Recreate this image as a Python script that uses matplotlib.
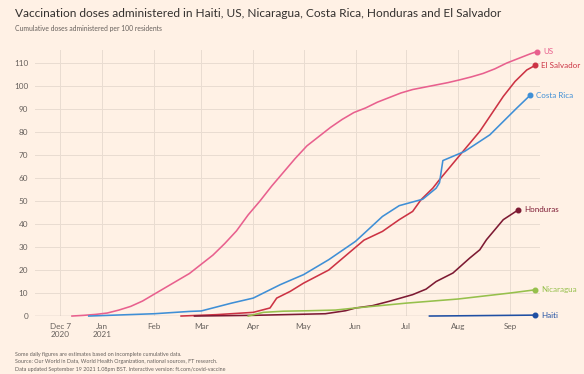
import matplotlib.pyplot as plt
import numpy as np
import pandas as pd

# weekly-ish readings (doses per 100 residents)
us_dates = ["2020-12-14", "2020-12-21", "2020-12-28", "2021-01-04", "2021-01-11", "2021-01-18",
            "2021-01-25", "2021-02-01", "2021-02-08", "2021-02-15", "2021-02-22", "2021-03-01",
            "2021-03-08", "2021-03-15", "2021-03-22", "2021-03-29", "2021-04-05", "2021-04-12",
            "2021-04-19", "2021-04-26", "2021-05-03", "2021-05-10", "2021-05-17", "2021-05-24",
            "2021-05-31", "2021-06-07", "2021-06-14", "2021-06-21", "2021-06-28", "2021-07-05",
            "2021-07-12", "2021-07-19", "2021-07-26", "2021-08-02", "2021-08-09", "2021-08-16",
            "2021-08-23", "2021-08-30", "2021-09-06", "2021-09-13", "2021-09-17"]
us_vals = [0, 0.3, 0.7, 1.3, 2.6, 4.2, 6.5, 9.5, 12.5, 15.5, 18.5, 22.5, 26.5, 31.5, 37, 44,
           50, 56.5, 62.5, 68.5, 74, 78, 82, 85.5, 88.5, 90.5, 93, 95, 97, 98.5, 99.5, 100.5,
           101.5, 102.7, 104, 105.5, 107.5, 110, 112, 114, 115]

cr_dates = ["2020-12-24", "2021-01-01", "2021-02-01", "2021-02-22", "2021-03-01", "2021-03-19",
            "2021-04-01", "2021-04-17", "2021-04-23", "2021-05-01", "2021-05-16", "2021-06-01",
            "2021-06-17", "2021-06-27", "2021-07-11", "2021-07-19", "2021-07-21", "2021-07-23",
            "2021-08-05", "2021-08-20", "2021-09-05", "2021-09-13"]
cr_vals = [0, 0.2, 1, 2, 2.2, 5.6, 7.8, 13.6, 15.5, 18, 24.5, 32.5, 43.3, 48, 50.8, 55.6, 58,
           67.6, 71.6, 78.8, 90.4, 96]

sv_dates = ["2021-02-17", "2021-03-10", "2021-04-01", "2021-04-11", "2021-04-15", "2021-04-23",
            "2021-05-01", "2021-05-16", "2021-06-06", "2021-06-17", "2021-06-27", "2021-07-05",
            "2021-07-10", "2021-07-17", "2021-07-21", "2021-08-04", "2021-08-14", "2021-08-20",
            "2021-08-28", "2021-09-04", "2021-09-11", "2021-09-16"]
sv_vals = [0, 0.6, 1.6, 3.5, 7.8, 10.7, 14.3, 20, 33, 36.8, 41.9, 45.5, 50.6, 55.6, 59.3, 71.6,
           80.3, 86.8, 95.5, 102, 107, 109]

hn_dates = ["2021-02-25", "2021-04-01", "2021-05-14", "2021-05-26", "2021-06-01", "2021-06-11",
            "2021-06-21", "2021-07-05", "2021-07-13", "2021-07-19", "2021-07-29", "2021-08-08",
            "2021-08-14", "2021-08-18", "2021-08-28", "2021-09-06"]
hn_vals = [0, 0.3, 1.0, 2.3, 3.5, 4.5, 6.4, 9.3, 11.7, 15, 18.7, 25.2, 28.8, 33.2, 41.9, 46.2]

ni_dates = ["2021-03-29", "2021-04-07", "2021-04-19", "2021-05-04", "2021-05-20", "2021-06-01",
            "2021-07-01", "2021-08-01", "2021-09-01", "2021-09-16"]
ni_vals = [0, 1.6, 2.1, 2.3, 2.6, 3.5, 5.6, 7.4, 10, 11.4]

ht_dates = ["2021-07-15", "2021-08-01", "2021-09-01", "2021-09-16"]
ht_vals = [0, 0.1, 0.3, 0.4]

series = [
    ("US", us_dates, us_vals, "#e8608e"),
    ("El Salvador", sv_dates, sv_vals, "#cc3344"),
    ("Costa Rica", cr_dates, cr_vals, "#3f8fd6"),
    ("Honduras", hn_dates, hn_vals, "#7d1a33"),
    ("Nicaragua", ni_dates, ni_vals, "#96c04c"),
    ("Haiti", ht_dates, ht_vals, "#1f4fa3"),
]

bg = "#fff1e5"
plt.rcParams['font.family'] = ['Lato', 'DejaVu Sans']

fig = plt.figure(figsize=(5.84, 3.74), dpi=100, facecolor=bg)
ax = fig.add_axes([0.06, 0.155, 0.865, 0.712])
ax.set_facecolor(bg)

for name, d, v, c in series:
    x = pd.to_datetime(d)
    ax.plot(x, v, color=c, lw=1.15, clip_on=False, zorder=3)
    ax.plot(x[-1], v[-1], 'o', color=c, ms=3.3, clip_on=False, zorder=4)
    ax.annotate(name, (x[-1], v[-1]), xytext=(4.5, 0),
                textcoords="offset points", va="center", ha="left",
                color=c, fontsize=5.8, annotation_clip=False)

ax.set_xlim(pd.Timestamp("2020-11-22"), pd.Timestamp("2021-09-19"))
ax.set_ylim(0, 115.8)

ticks = pd.to_datetime(["2020-12-07", "2021-01-01", "2021-02-01", "2021-03-01", "2021-04-01",
                        "2021-05-01", "2021-06-01", "2021-07-01", "2021-08-01", "2021-09-01"])
tick_labels = ["Dec 7\n2020", "Jan\n2021", "Feb", "Mar", "Apr", "May", "Jun", "Jul", "Aug", "Sep"]
ax.set_xticks(ticks)
ax.set_xticklabels(tick_labels, linespacing=1.2)
ax.set_yticks(np.arange(0, 111, 10))

ax.grid(True, color="#e9dcd1", lw=0.7)
ax.set_axisbelow(True)
for s in ['top', 'bottom', 'left', 'right']:
    ax.spines[s].set_visible(False)
ax.axhline(0, color="#b3a9a1", lw=0.9, zorder=2)
ax.tick_params(length=0, labelsize=5.9, colors="#66605c", pad=5)
ax.tick_params(axis='y', pad=5)

fig.text(0.026, 0.965, "Vaccination doses administered in Haiti, US, Nicaragua, Costa Rica, Honduras and El Salvador",
         fontsize=8.6, color="#33302e", va="center")
fig.text(0.026, 0.925, "Cumulative doses administered per 100 residents",
         fontsize=4.9, color="#66605c", va="center")
fig.text(0.026, 0.006,
         "Some daily figures are estimates based on incomplete cumulative data.\n"
         "Source: Our World in Data, World Health Organization, national sources, FT research.\n"
         "Data updated September 19 2021 1.08pm BST. Interactive version: ft.com/covid-vaccine",
         fontsize=3.9, color="#66605c", va="bottom", linespacing=1.6)

fig.savefig("out.png", dpi=100, facecolor=bg)
